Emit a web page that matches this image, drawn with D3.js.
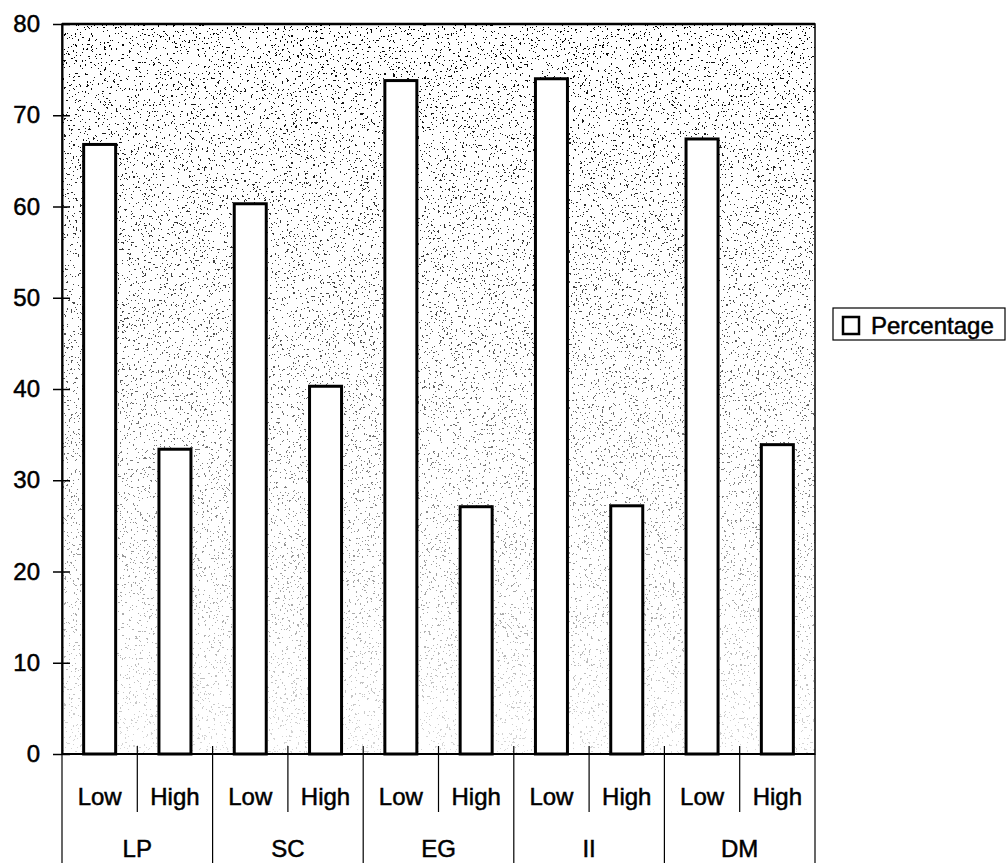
<!DOCTYPE html>
<html>
<head>
<meta charset="utf-8">
<script src="https://cdn.jsdelivr.net/npm/d3@7"></script>
<style>
  html, body { margin: 0; padding: 0; background: #fff; }
  svg { display: block; }
  text { font-family: "Liberation Sans", Arial, sans-serif; fill: #000; stroke: #000; stroke-width: 0.5px; }
</style>
</head>
<body>
<svg id="chart" width="1008" height="863"></svg>
<script>
// Groups and their sub-levels
const groups = ["LP", "SC", "EG", "II", "DM"];
const levels = ["Low", "High"];
// Percentage per group, ordered Low, High
const lowValues  = [66.8, 60.3, 73.8, 74.0, 67.4];
const highValues = [33.4, 40.3, 27.1, 27.2, 33.9];
const yTicks = [0, 10, 20, 30, 40, 50, 60, 70, 80];
const seriesName = "Percentage";

const rows = [];
groups.forEach((g, i) => {
  rows.push({ key: g + "-Low",  group: g, level: levels[0], value: lowValues[i] });
  rows.push({ key: g + "-High", group: g, level: levels[1], value: highValues[i] });
});

const plot = { left: 62, right: 815, top: 24, bottom: 754 };
const svg = d3.select("#chart");

const x = d3.scaleBand()
  .domain(rows.map(d => d.key))
  .range([plot.left, plot.right])
  .paddingInner(0.575)
  .paddingOuter(0.2875);
const band = (plot.right - plot.left) / rows.length;

const y = d3.scaleLinear().domain([0, 80]).range([plot.bottom, plot.top]);

// Stippled plot background, denser towards the top
const defs = svg.append("defs");
const grad = defs.append("linearGradient")
  .attr("id", "fade").attr("x1", 0).attr("y1", 0).attr("x2", 0).attr("y2", 1);
grad.append("stop").attr("offset", "0%").attr("stop-color", "#fff").attr("stop-opacity", 1);
grad.append("stop").attr("offset", "40%").attr("stop-color", "#fff").attr("stop-opacity", 0.7);
grad.append("stop").attr("offset", "100%").attr("stop-color", "#fff").attr("stop-opacity", 0.15);
defs.append("mask").attr("id", "fadeMask")
  .append("rect")
  .attr("x", plot.left).attr("y", plot.top)
  .attr("width", plot.right - plot.left).attr("height", plot.bottom - plot.top)
  .attr("fill", "url(#fade)");

const f = defs.append("filter").attr("id", "speckle")
  .attr("x", 0).attr("y", 0).attr("width", 1).attr("height", 1);
f.append("feTurbulence").attr("type", "fractalNoise")
  .attr("baseFrequency", 0.45).attr("numOctaves", 2).attr("seed", 7).attr("result", "noise");
f.append("feColorMatrix").attr("in", "noise").attr("type", "matrix")
  .attr("values", "0 0 0 0 0  0 0 0 0 0  0 0 0 0 0  1.8 0 0 0 -0.55");
const ct = f.append("feComponentTransfer");
ct.append("feFuncA").attr("type", "discrete").attr("tableValues", "0 0 0 0 1 1");

svg.append("rect")
  .attr("x", plot.left).attr("y", plot.top)
  .attr("width", plot.right - plot.left).attr("height", plot.bottom - plot.top)
  .attr("fill", "#fff");
svg.append("g").attr("mask", "url(#fadeMask)")
  .append("rect")
  .attr("x", plot.left).attr("y", plot.top)
  .attr("width", plot.right - plot.left).attr("height", plot.bottom - plot.top)
  .attr("fill", "#000")
  .attr("filter", "url(#speckle)");

// Bars
svg.append("g").selectAll("rect")
  .data(rows)
  .join("rect")
  .attr("x", d => x(d.key))
  .attr("y", d => y(d.value))
  .attr("width", x.bandwidth())
  .attr("height", d => y(0) - y(d.value))
  .attr("fill", "#fff")
  .attr("stroke", "#000")
  .attr("stroke-width", 3);

// Plot frame
svg.append("rect")
  .attr("x", plot.left).attr("y", plot.top)
  .attr("width", plot.right - plot.left).attr("height", plot.bottom - plot.top)
  .attr("fill", "none").attr("stroke", "#000").attr("stroke-width", 1.5);
svg.append("line")
  .attr("x1", plot.left).attr("x2", plot.right)
  .attr("y1", plot.top).attr("y2", plot.top)
  .attr("stroke", "#000").attr("stroke-width", 2.5);

// Y axis with crossing ticks
const yAxis = svg.append("g")
  .attr("transform", `translate(${plot.left},0)`)
  .call(d3.axisLeft(y).tickValues(yTicks).tickSizeInner(9).tickSizeOuter(0).tickPadding(13));
yAxis.attr("font-size", null).attr("font-family", null);
yAxis.select(".domain").attr("stroke-width", 2);
yAxis.selectAll(".tick line").attr("x1", 8).attr("x2", -9).attr("stroke-width", 1.5);
yAxis.selectAll(".tick text")
  .attr("font-size", 24)
  .style("font-size", "24px");

// Multi-level category axis
const ax = svg.append("g");
ax.append("line")
  .attr("x1", plot.left).attr("x2", plot.right)
  .attr("y1", plot.bottom).attr("y2", plot.bottom)
  .attr("stroke", "#000").attr("stroke-width", 2);

const boundaries = d3.range(rows.length + 1).map(i => plot.left + i * band);
boundaries.forEach((bx, i) => {
  const outer = i === 0 || i === rows.length;
  const groupEdge = i % 2 === 0;
  ax.append("line")
    .attr("x1", bx).attr("x2", bx)
    .attr("y1", outer ? plot.bottom : plot.bottom - 8)
    .attr("y2", groupEdge ? 863 : 812)
    .attr("stroke", "#000").attr("stroke-width", 1.2);
});

ax.selectAll("text.level")
  .data(rows)
  .join("text")
  .attr("class", "level")
  .attr("x", d => x(d.key) + x.bandwidth() / 2)
  .attr("y", 805)
  .attr("text-anchor", "middle")
  .style("font-size", "24px")
  .text(d => d.level);

ax.selectAll("text.group")
  .data(groups)
  .join("text")
  .attr("class", "group")
  .attr("x", (g, i) => plot.left + (2 * i + 1) * band)
  .attr("y", 857)
  .attr("text-anchor", "middle")
  .style("font-size", "24px")
  .text(g => g);

// Legend
const lg = svg.append("g");
lg.append("rect")
  .attr("x", 833).attr("y", 308).attr("width", 172).attr("height", 32)
  .attr("fill", "#fff").attr("stroke", "#000").attr("stroke-width", 1.2);
lg.append("rect")
  .attr("x", 843).attr("y", 317).attr("width", 16).attr("height", 17)
  .attr("fill", "#fff").attr("stroke", "#000").attr("stroke-width", 2.5);
lg.append("text")
  .attr("x", 871).attr("y", 334)
  .style("font-size", "24px")
  .text(seriesName);
</script>
</body>
</html>
